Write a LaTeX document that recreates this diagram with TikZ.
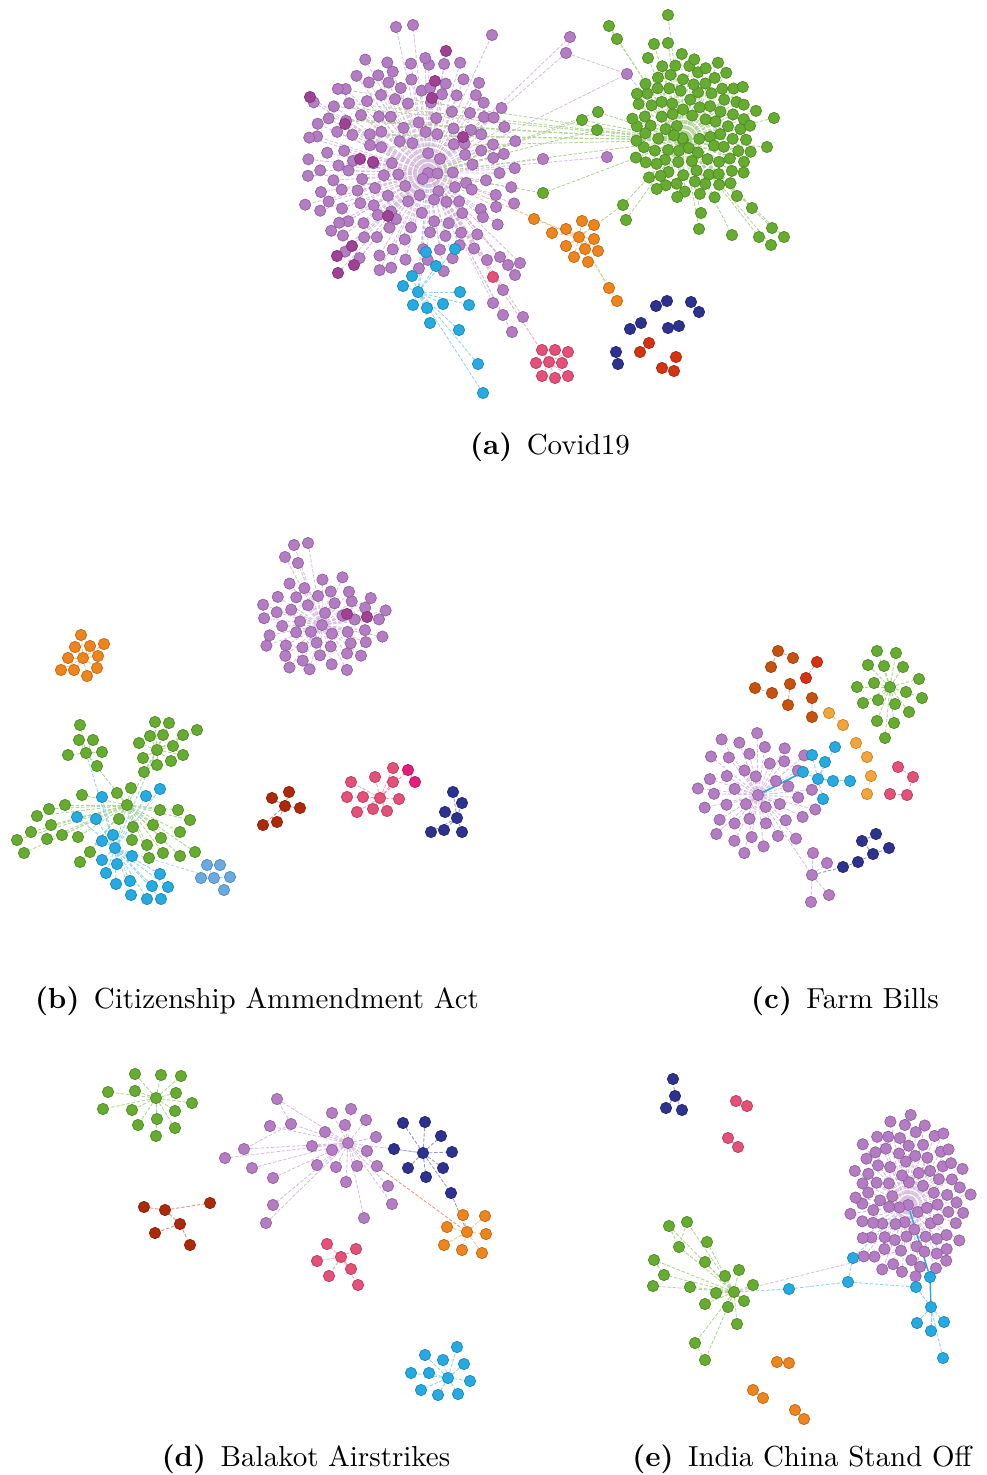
\documentclass[tikz,border=0pt]{standalone}
\usetikzlibrary{backgrounds}
\definecolor{cpur}{RGB}{180,125,195}
\definecolor{cmag}{RGB}{160,65,150}
\definecolor{cgrn}{RGB}{102,172,48}
\definecolor{ccyn}{RGB}{38,170,226}
\definecolor{clbl}{RGB}{105,170,225}
\definecolor{corn}{RGB}{238,132,28}
\definecolor{clor}{RGB}{242,165,60}
\definecolor{cpnk}{RGB}{228,80,120}
\definecolor{chot}{RGB}{228,30,120}
\definecolor{cdbl}{RGB}{45,50,142}
\definecolor{cred}{RGB}{212,50,18}
\definecolor{cdrd}{RGB}{172,42,10}
\definecolor{cbrn}{RGB}{198,82,14}
\begin{document}
\begin{tikzpicture}
[ x=0.345pt, y=-0.345pt
, vertex/.style={circle, inner sep=0pt, minimum size=3.9pt, fill=#1, draw=#1!80!black, line width=0.25pt}
, link/.style={draw=#1!50, line width=0.3pt, dash pattern=on 1.2pt off 0.6pt}
, caption/.style={font=\normalsize, inner sep=0pt}
]
\useasboundingbox (0,0) rectangle (987,1475);
\pgfmathsetseed{7}
% (a) Covid19:
\node (a-pur) [vertex=cpur] at (428,173) {};
\node (a-grn) [vertex=cgrn] at (683,140) {};
\foreach \i in {1,...,158} {
  \pgfmathsetmacro\rr{sqrt((\i+2)/160)}
  \pgfmathsetmacro\aa{360*mod(0.381966*\i,1)}
  \pgfmathsetmacro\px{410+110*\rr*cos(\aa)+4*rand}
  \pgfmathsetmacro\py{163+114*\rr*sin(\aa)+4*rand}
  \node (a-pur-\i) [vertex=cpur] at (\px,\py) {};
}
\foreach \x/\y [count=\k] in {396/27, 413/25, 492/35, 570/37, 566/53, 627/74, 543/159, 607/157,
  487/260, 500/257, 508/265, 520/263, 515/275, 503/290, 493/303, 503/315, 523/317, 512/332}
  \node (a-px-\k) [vertex=cpur] at (\x,\y) {};
\foreach \x/\y [count=\k] in {310/97, 345/124, 446/51, 360/159, 373/162, 388/216, 352/246,
  337/256, 354/265, 338/273, 435/81, 432/98, 463/137}
  \node (a-mag-\k) [vertex=cmag] at (\x,\y) {};
\foreach \i in {1,...,105} {
  \pgfmathsetmacro\rr{sqrt((\i+2)/107)}
  \pgfmathsetmacro\aa{360*mod(0.381966*\i,1)}
  \pgfmathsetmacro\px{692+65*\rr*cos(\aa)+2*rand}
  \pgfmathsetmacro\py{128+74*\rr*sin(\aa)+2*rand}
  \node (a-grn-\i) [vertex=cgrn] at (\px,\py) {};
}
\foreach \x/\y [count=\k] in {668/15, 609/26, 617/39, 654/44, 668/43, 648/58, 582/120, 598/112,
  597/130, 543/193, 623/205, 626/220, 701/213, 699/229, 732/235, 752/208, 772/228, 759/237,
  784/237, 771/245, 774/118, 767/147, 737/196}
  \node (a-gx-\k) [vertex=cgrn] at (\x,\y) {};
\node (a-cyn) [vertex=ccyn] at (418,292) {};
\foreach \x/\y [count=\k] in {426/252, 455/249, 436/266, 412/276, 403/286, 413/305, 427/308,
  443/304, 460/292, 469/305, 430/323, 459/330, 478/364, 483/393}
  \node (a-cyn-\k) [vertex=ccyn] at (\x,\y) {};
\node (a-orn) [vertex=corn] at (579,237) {};
\foreach \x/\y [count=\k] in {534/219, 552/233, 566/229, 582/221, 594/225, 594/239, 566/246,
  585/249, 598/251, 574/257, 588/262, 609/288, 617/301}
  \node (a-orn-\k) [vertex=corn] at (\x,\y) {};
\node (a-pnk) [vertex=cpnk] at (549,362) {};
\foreach \x/\y [count=\k] in {542/350, 555/350, 568/352, 536/363, 562/363, 542/376, 555/378,
  568/376, 493/277}
  \node (a-pnk-\k) [vertex=cpnk] at (\x,\y) {};
\foreach \x/\y [count=\k] in {656/306, 667/301, 691/302, 699/312, 630/329, 641/323, 668/328,
  679/326, 616/352, 618/364}
  \node (a-dbl-\k) [vertex=cdbl] at (\x,\y) {};
\foreach \x/\y [count=\k] in {649/343, 640/352, 676/357, 662/368, 674/371}
  \node (a-red-\k) [vertex=cred] at (\x,\y) {};
\begin{scope}[on background layer]
  \foreach \h/\g/\n/\c in {a-pur/a-pur/158/cpur, a-pur/a-px/18/cpur, a-pur/a-mag/13/cpur,
    a-grn/a-grn/105/cgrn, a-grn/a-gx/23/cgrn, a-cyn/a-cyn/14/ccyn, a-orn/a-orn/13/corn,
    a-pnk/a-pnk/9/cpnk}
    \foreach \k in {1,...,\n} \draw [link=\c] (\h) -- (\g-\k);
  \draw [link=cgrn] (a-pur) -- (a-grn);
  \foreach \k in {7,8,9,10} \draw [link=cgrn] (a-pur) -- (a-gx-\k);
  \foreach \i in {12,33,46,67,88,101,122,143} \draw [link=cgrn] (a-grn) -- (a-pur-\i);
  \draw [link=cpur] (a-px-4) -- (a-px-5) -- (a-px-6) -- (a-grn);
  \draw [link=ccyn] (a-pur) -- (a-cyn);
  \draw [link=corn] (a-pur) -- (a-orn);
  \draw [link=cpnk] (a-pur) -- (a-pnk-9);
  \draw [link=cgrn] (a-orn) -- (a-gx-11);
\end{scope}
\node (cap-a) [caption] at (550,447) {\textbf{(a)}\enspace Covid19};
% (b) Citizenship Ammendment Act:
\node (b-pur) [vertex=cpur] at (322,625) {};
\foreach \i in {1,...,48} {
  \pgfmathsetmacro\rr{sqrt((\i+1)/49)}
  \pgfmathsetmacro\aa{360*mod(0.381966*\i,1)}
  \pgfmathsetmacro\px{322+66*\rr*cos(\aa)+2*rand}
  \pgfmathsetmacro\py{624+50*\rr*sin(\aa)+2*rand}
  \node (b-pur-\i) [vertex=cpur] at (\px,\py) {};
}
\foreach \x/\y [count=\k] in {294/545, 308/543, 285/557, 298/563}
  \node (b-px-\k) [vertex=cpur] at (\x,\y) {};
\node (b-mag-1) [vertex=cmag] at (347,614) {};
\node (b-mag-2) [vertex=cmag] at (367,617) {};
\node (b-orn) [vertex=corn] at (83,658) {};
\foreach \x/\y [count=\k] in {81/635, 75/647, 90/646, 104/644, 68/658, 98/656, 61/670, 74/670,
  87/676, 97/668}
  \node (b-orn-\k) [vertex=corn] at (\x,\y) {};
\node (b-g1) [vertex=cgrn] at (86,753) {};
\node (b-g2) [vertex=cgrn] at (157,750) {};
\node (b-g3) [vertex=cgrn] at (127,805) {};
\foreach \x/\y [count=\k] in {80/725, 79/740, 93/740, 68/755, 102/752, 97/766}
  \node (b-g1-\k) [vertex=cgrn] at (\x,\y) {};
\foreach \x/\y [count=\k] in {155/722, 169/723, 197/730, 139/743, 150/736, 163/735, 183/735,
  173/746, 183/755, 143/758, 157/765, 171/761, 144/772}
  \node (b-g2-\k) [vertex=cgrn] at (\x,\y) {};
\foreach \x/\y [count=\k] in {82/795, 117/793, 131/788, 65/805, 49/809, 37/816, 51/825, 31/832,
  17/840, 24/853, 47/839, 62/835, 78/837, 90/852, 80/862, 119/819, 133/827, 153/825, 160/810,
  178/810, 190/820, 180/832, 161/838, 147/845, 132/840, 149/858, 163/853, 180/856, 195/852}
  \node (b-g3-\k) [vertex=cgrn] at (\x,\y) {};
\node (b-cyn) [vertex=ccyn] at (115,848) {};
\foreach \x/\y [count=\k] in {102/797, 146/796, 160/789, 77/817, 96/819, 113/835, 102/841,
  132/856, 102/860, 117/864, 106/873, 116/884, 130/881, 131/895, 147/899, 161/899, 152/886,
  168/887, 160/874}
  \node (b-cyn-\k) [vertex=ccyn] at (\x,\y) {};
\node (b-lbl) [vertex=clbl] at (214,878) {};
\foreach \x/\y [count=\k] in {207/865, 220/865, 201/878, 230/877, 224/890}
  \node (b-lbl-\k) [vertex=clbl] at (\x,\y) {};
\node (b-drd) [vertex=cdrd] at (285,806) {};
\foreach \x/\y [count=\k] in {289/792, 272/798, 300/808, 263/825, 277/822}
  \node (b-drd-\k) [vertex=cdrd] at (\x,\y) {};
\node (b-pnk) [vertex=cpnk] at (380,798) {};
\foreach \x/\y [count=\k] in {375/777, 393/768, 351/782, 363/797, 393/782, 399/799, 347/797,
  357/812, 373/809, 387/811}
  \node (b-pnk-\k) [vertex=cpnk] at (\x,\y) {};
\node (b-hot-1) [vertex=chot] at (408,770) {};
\node (b-hot-2) [vertex=chot] at (415,782) {};
\node (b-dbl) [vertex=cdbl] at (457,818) {};
\foreach \x/\y [count=\k] in {453/792, 462/803, 445/812, 431/832, 444/830, 462/832}
  \node (b-dbl-\k) [vertex=cdbl] at (\x,\y) {};
\begin{scope}[on background layer]
  \foreach \h/\g/\n/\c in {b-pur/b-pur/48/cpur, b-pur/b-px/4/cpur, b-orn/b-orn/10/corn,
    b-g1/b-g1/6/cgrn, b-g2/b-g2/13/cgrn, b-g3/b-g3/29/cgrn, b-cyn/b-cyn/19/ccyn,
    b-lbl/b-lbl/5/clbl, b-drd/b-drd/5/cdrd, b-pnk/b-pnk/10/cpnk, b-dbl/b-dbl/6/cdbl}
    \foreach \k in {1,...,\n} \draw [link=\c] (\h) -- (\g-\k);
  \draw [link=cgrn] (b-g1) -- (b-g3) -- (b-g2);
  \draw [link=ccyn] (b-g1) -- (b-cyn) -- (b-g2);
  \draw [link=ccyn] (b-g3) -- (b-cyn);
  \draw [link=clbl] (b-cyn) -- (b-lbl);
  \draw [link=cpur] (b-pur) -- (b-mag-1) (b-pur) -- (b-mag-2);
  \draw [link=chot] (b-pnk) -- (b-hot-1) -- (b-hot-2);
\end{scope}
\node (cap-b) [caption] at (257,1001) {\textbf{(b)}\enspace Citizenship Ammendment Act};
% (c) Farm Bills:
\foreach \x/\y [count=\k] in {778/651, 793/658, 771/667, 790/684, 788/705, 755/688, 772/693,
  812/698, 812/717}
  \node (c-brn-\k) [vertex=cbrn] at (\x,\y) {};
\node (c-red-1) [vertex=cred] at (817,662) {};
\node (c-red-2) [vertex=cred] at (806,678) {};
\foreach \x/\y [count=\k] in {829/713, 843/725, 856/743, 867/757, 871/776, 867/794}
  \node (c-orn-\k) [vertex=clor] at (\x,\y) {};
\node (c-grn) [vertex=cgrn] at (890,687) {};
\foreach \x/\y [count=\k] in {877/651, 896/653, 868/665, 884/666, 903/667, 919/679, 857/687,
  874/683, 906/692, 922/698, 863/703, 878/700, 895/704, 909/712, 877/721, 894/723, 885/738}
  \node (c-grn-\k) [vertex=cgrn] at (\x,\y) {};
\foreach \x/\y [count=\k] in {898/767, 913/777, 890/794, 907/795}
  \node (c-pnk-\k) [vertex=cpnk] at (\x,\y) {};
\node (c-pur) [vertex=cpur] at (758,795) {};
\foreach \i in {1,...,42} {
  \pgfmathsetmacro\rr{sqrt((\i+1)/43)}
  \pgfmathsetmacro\aa{360*mod(0.381966*\i,1)}
  \pgfmathsetmacro\px{755+62*\rr*cos(\aa)+2*rand}
  \pgfmathsetmacro\py{793+64*\rr*sin(\aa)+2*rand}
  \node (c-pur-\i) [vertex=cpur] at (\px,\py) {};
}
\node (c-px) [vertex=cpur] at (812,875) {};
\foreach \x/\y [count=\k] in {813/853, 827/863, 811/902, 829/895}
  \node (c-px-\k) [vertex=cpur] at (\x,\y) {};
\node (c-cyn) [vertex=ccyn] at (818,779) {};
\foreach \x/\y [count=\k] in {803/772, 812/755, 835/747, 825/762, 833/781, 850/781, 823/799}
  \node (c-cyn-\k) [vertex=ccyn] at (\x,\y) {};
\foreach \x/\y [count=\k] in {843/867, 858/862, 873/854, 862/841, 876/834, 889/848}
  \node (c-dbl-\k) [vertex=cdbl] at (\x,\y) {};
\begin{scope}[on background layer]
  \foreach \h/\g/\n/\c in {c-grn/c-grn/17/cgrn, c-pur/c-pur/42/cpur, c-px/c-px/4/cpur,
    c-cyn/c-cyn/7/ccyn}
    \foreach \k in {1,...,\n} \draw [link=\c] (\h) -- (\g-\k);
  \draw [link=cbrn] (c-brn-3) -- (c-brn-1) -- (c-brn-2) (c-brn-6) -- (c-brn-7)
    (c-brn-4) -- (c-brn-5) (c-brn-8) -- (c-brn-9);
  \draw [link=cred] (c-red-1) -- (c-red-2);
  \draw [link=clor] (c-orn-1) -- (c-orn-2) (c-orn-3) -- (c-orn-4) (c-orn-5) -- (c-orn-6);
  \draw [link=cpnk] (c-pnk-1) -- (c-pnk-2) -- (c-pnk-4) -- (c-pnk-3);
  \draw [link=cpur] (c-pur) -- (c-px);
  \draw [ccyn, line width=0.6pt] (c-cyn-1) -- (c-pur);
  \draw [link=cdbl] (c-px) -- (c-dbl-1) -- (c-dbl-2) -- (c-dbl-3) -- (c-dbl-4) -- (c-dbl-5)
    (c-dbl-3) -- (c-dbl-6);
\end{scope}
\node (cap-c) [caption] at (845,1001) {\textbf{(c)}\enspace Farm Bills};
% (d) Balakot Airstrikes:
\node (d-grn) [vertex=cgrn] at (156,1098) {};
\foreach \x/\y [count=\k] in {135/1074, 161/1075, 181/1076, 108/1092, 135/1091, 176/1093,
  192/1103, 103/1109, 132/1110, 175/1111, 138/1125, 157/1119, 175/1128, 156/1136}
  \node (d-grn-\k) [vertex=cgrn] at (\x,\y) {};
\node (d-pur) [vertex=cpur] at (348,1143) {};
\foreach \x/\y [count=\k] in {277/1099, 291/1124, 270/1126, 332/1113, 351/1109, 366/1120,
  325/1132, 345/1125, 376/1137, 244/1149, 225/1158, 312/1146, 332/1150, 367/1151, 252/1168,
  317/1165, 336/1167, 357/1166, 377/1166, 273/1178, 346/1182, 388/1186, 273/1205, 392/1204,
  266/1223, 364/1218}
  \node (d-pur-\k) [vertex=cpur] at (\x,\y) {};
\node (d-dbl) [vertex=cdbl] at (423,1153) {};
\foreach \x/\y [count=\k] in {403/1123, 425/1122, 441/1136, 394/1149, 452/1152, 408/1168,
  443/1168, 426/1177, 451/1193}
  \node (d-dbl-\k) [vertex=cdbl] at (\x,\y) {};
\foreach \x/\y [count=\k] in {144/1207, 165/1210, 210/1203, 180/1224, 155/1233, 190/1245}
  \node (d-drd-\k) [vertex=cdrd] at (\x,\y) {};
\node (d-orn) [vertex=corn] at (467,1232) {};
\foreach \x/\y [count=\k] in {463/1215, 485/1216, 447/1227, 486/1234, 444/1245, 462/1250,
  482/1253}
  \node (d-orn-\k) [vertex=corn] at (\x,\y) {};
\node (d-pnk) [vertex=cpnk] at (341,1257) {};
\foreach \x/\y [count=\k] in {327/1244, 356/1249, 317/1261, 351/1269, 329/1276, 358/1285}
  \node (d-pnk-\k) [vertex=cpnk] at (\x,\y) {};
\node (d-cyn) [vertex=ccyn] at (448,1378) {};
\foreach \x/\y [count=\k] in {457/1347, 425/1355, 443/1360, 464/1364, 411/1373, 429/1373,
  470/1381, 421/1390, 438/1395, 458/1394}
  \node (d-cyn-\k) [vertex=ccyn] at (\x,\y) {};
\begin{scope}[on background layer]
  \foreach \h/\g/\n/\c in {d-grn/d-grn/14/cgrn, d-pur/d-pur/26/cpur, d-dbl/d-dbl/9/cdbl,
    d-orn/d-orn/7/corn, d-pnk/d-pnk/6/cpnk, d-cyn/d-cyn/10/ccyn}
    \foreach \k in {1,...,\n} \draw [link=\c] (\h) -- (\g-\k);
  \draw [link=cdrd] (d-drd-1) -- (d-drd-2) -- (d-drd-3) (d-drd-2) -- (d-drd-4) -- (d-drd-5)
    (d-drd-4) -- (d-drd-6);
  \draw [link=cpur] (d-pur) -- (d-dbl) (d-pur-2) -- (d-pur-1) (d-pur-2) -- (d-pur-10);
  \draw [link=cred] (d-pur-19) -- (d-orn);
  \draw [link=cdbl] (d-dbl-9) -- (d-orn);
\end{scope}
\node (cap-d) [caption] at (306,1459) {\textbf{(d)}\enspace Balakot Airstrikes};
% (e) India China Stand Off:
\node (e-dbl) [vertex=cdbl] at (675,1096) {};
\foreach \x/\y [count=\k] in {673/1079, 666/1108, 682/1110}
  \node (e-dbl-\k) [vertex=cdbl] at (\x,\y) {};
\foreach \x/\y [count=\k] in {736/1101, 747/1106, 728/1138, 738/1147}
  \node (e-pnk-\k) [vertex=cpnk] at (\x,\y) {};
\node (e-pur) [vertex=cpur] at (908,1205) {};
\foreach \i in {1,...,92} {
  \pgfmathsetmacro\rr{sqrt((\i+2)/94)}
  \pgfmathsetmacro\aa{360*mod(0.381966*\i,1)}
  \pgfmathsetmacro\px{909+61*\rr*cos(\aa)+2*rand}
  \pgfmathsetmacro\py{1198+83*\rr*sin(\aa)+2*rand}
  \node (e-pur-\i) [vertex=cpur] at (\px,\py) {};
}
\node (e-grn) [vertex=cgrn] at (734,1292) {};
\foreach \x/\y [count=\k] in {669/1226, 687/1222, 679/1247, 707/1242, 654/1260, 705/1262,
  664/1275, 725/1276, 739/1270, 653/1286, 690/1287, 716/1293, 753/1285, 705/1304, 728/1307,
  744/1301, 737/1324, 695/1343, 705/1360}
  \node (e-grn-\k) [vertex=cgrn] at (\x,\y) {};
\foreach \x/\y [count=\k] in {789/1289, 848/1282, 853/1258, 916/1287, 930/1277, 931/1307,
  917/1323, 931/1331, 944/1322, 943/1358}
  \node (e-cyn-\k) [vertex=ccyn] at (\x,\y) {};
\foreach \x/\y [count=\k] in {777/1362, 789/1363, 753/1390, 763/1398, 795/1410, 804/1419}
  \node (e-orn-\k) [vertex=corn] at (\x,\y) {};
\begin{scope}[on background layer]
  \foreach \h/\g/\n/\c in {e-dbl/e-dbl/3/cdbl, e-pur/e-pur/92/cpur, e-grn/e-grn/19/cgrn}
    \foreach \k in {1,...,\n} \draw [link=\c] (\h) -- (\g-\k);
  \draw [link=cpnk] (e-pnk-1) -- (e-pnk-2) (e-pnk-3) -- (e-pnk-4);
  \draw [link=corn] (e-orn-1) -- (e-orn-2) (e-orn-3) -- (e-orn-4) (e-orn-5) -- (e-orn-6);
  \draw [link=ccyn] (e-grn) -- (e-cyn-1) -- (e-cyn-2) -- (e-cyn-4) -- (e-cyn-6);
  \draw [link=ccyn] (e-cyn-3) -- (e-pur) (e-cyn-5) -- (e-pur) (e-cyn-2) -- (e-cyn-3);
  \draw [ccyn, line width=0.5pt] (e-pur) -- (e-cyn-5) -- (e-cyn-6);
  \foreach \k in {7,8,9,10} \draw [link=ccyn] (e-cyn-6) -- (e-cyn-\k);
  \draw [link=cpur] (e-grn) -- (e-pur-40);
  \draw [link=cgrn] (e-grn-1) -- (e-grn-3) -- (e-grn-2) (e-grn-5) -- (e-grn-7)
    (e-grn-18) -- (e-grn-19);
\end{scope}
\node (cap-e) [caption] at (802,1459) {\textbf{(e)}\enspace India China Stand Off};
\end{tikzpicture}
\end{document}
